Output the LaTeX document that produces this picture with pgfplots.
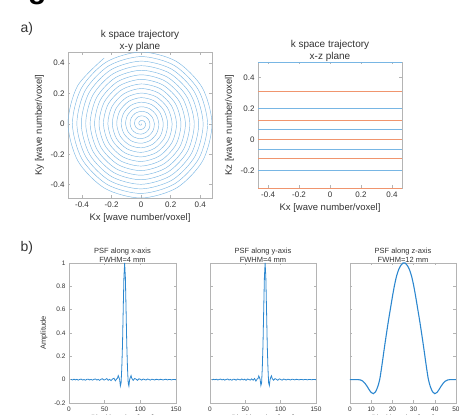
\documentclass[border=0pt]{standalone}
\usepackage{fontspec}
\setmainfont{Liberation Sans}
\usepackage{pgfplots}
\pgfplotsset{compat=1.18}
\definecolor{mblue}{HTML}{7DB8E4}
\definecolor{lblue}{HTML}{78B6E4}
\definecolor{lorange}{HTML}{F0956E}
\definecolor{pblue}{HTML}{2C87CF}
\definecolor{frame}{HTML}{B4B4B4}
\definecolor{txt}{HTML}{333333}

\pgfplotsset{
  mat/.style={scale only axis, anchor=south west,
    axis line style={frame, line width=0.5pt},
    tick style={frame, line width=0.4pt}, major tick length=2.5pt, tick align=inside,
    tick label style={text=txt}, label style={text=txt},
    title style={text=txt, align=center}},
  topax/.style={mat, width=144pt,
    tick label style={font=\fontsize{8}{9}\selectfont},
    label style={font=\fontsize{9.5}{11}\selectfont},
    title style={font=\fontsize{10}{12}\selectfont, yshift=-9pt},
    xtick={-0.4,-0.2,0,0.2,0.4}, xticklabels={-0.4,-0.2,0,0.2,0.4},
    xlabel={Kx [wave number/voxel]}},
  psf/.style={mat, height=140pt, ymin=-0.2, ymax=1,
    ytick={-0.2,0,0.2,0.4,0.6,0.8,1},
    tick label style={font=\fontsize{6.5}{7.5}\selectfont},
    label style={font=\fontsize{7.5}{8.5}\selectfont},
    xlabel style={yshift=2.5pt},
    title style={font=\fontsize{7.5}{8.5}\selectfont, yshift=-9pt},
    xlabel={Pixel location [mm]}},
}

\begin{document}
\begin{tikzpicture}
\node[anchor=base west, font=\fontsize{30}{32}\selectfont\bfseries] at (-2pt,416pt) {Figure};
\node[anchor=base west, font=\fontsize{14}{16}\selectfont, text=txt] at (17pt,382pt) {a)};
\node[anchor=base west, font=\fontsize{14}{16}\selectfont, text=txt] at (17pt,163pt) {b)};

% x-y plane spiral
\begin{axis}[topax, at={(68pt,217pt)}, height=146pt,
  xmin=-0.495, xmax=0.48, ymin=-0.4875, ymax=0.4725,
  ytick={-0.4,-0.2,0,0.2,0.4}, yticklabels={-0.4,-0.2,0,0.2,0.4},
  title={k space trajectory\\x-y plane}, ylabel={Ky [wave number/voxel]}]
\addplot[mblue, line width=0.45pt, smooth, data cs=polar] coordinates {
(0,0) (-30,0.0025) (-60,0.005) (-90,0.0075) (-120,0.01) (-150,0.0125) (-180,0.015) (-210,0.0175) (-240,0.02) (-270,0.0225) (-300,0.025) (-330,0.0275) (-360,0.03)
(-390,0.0325) (-420,0.035) (-450,0.0375) (-480,0.04) (-510,0.0425) (-540,0.045) (-570,0.0475) (-600,0.05) (-630,0.0525) (-660,0.055) (-690,0.0575) (-720,0.06)
(-750,0.0625) (-780,0.065) (-810,0.0675) (-840,0.07) (-870,0.0725) (-900,0.075) (-930,0.0775) (-960,0.08) (-990,0.0825) (-1020,0.085) (-1050,0.0875) (-1080,0.09)
(-1110,0.0925) (-1140,0.095) (-1170,0.0975) (-1200,0.1) (-1230,0.1025) (-1260,0.105) (-1290,0.1075) (-1320,0.11) (-1350,0.1125) (-1380,0.115) (-1410,0.1175) (-1440,0.12)
(-1470,0.1225) (-1500,0.125) (-1530,0.1275) (-1560,0.13) (-1590,0.1325) (-1620,0.135) (-1650,0.1375) (-1680,0.14) (-1710,0.1425) (-1740,0.145) (-1770,0.1475) (-1800,0.15)
(-1830,0.1525) (-1860,0.155) (-1890,0.1575) (-1920,0.16) (-1950,0.1625) (-1980,0.165) (-2010,0.1675) (-2040,0.17) (-2070,0.1725) (-2100,0.175) (-2130,0.1775) (-2160,0.18)
(-2190,0.1825) (-2220,0.185) (-2250,0.1875) (-2280,0.19) (-2310,0.1925) (-2340,0.195) (-2370,0.1975) (-2400,0.2) (-2430,0.2025) (-2460,0.205) (-2490,0.2075) (-2520,0.21)
(-2550,0.2125) (-2580,0.215) (-2610,0.2175) (-2640,0.22) (-2670,0.2225) (-2700,0.225) (-2730,0.2275) (-2760,0.23) (-2790,0.2325) (-2820,0.235) (-2850,0.2375) (-2880,0.24)
(-2910,0.2425) (-2940,0.245) (-2970,0.2475) (-3000,0.25) (-3030,0.2525) (-3060,0.255) (-3090,0.2575) (-3120,0.26) (-3150,0.2625) (-3180,0.265) (-3210,0.2675) (-3240,0.27)
(-3270,0.2725) (-3300,0.275) (-3330,0.2775) (-3360,0.28) (-3390,0.2825) (-3420,0.285) (-3450,0.2875) (-3480,0.29) (-3510,0.2925) (-3540,0.295) (-3570,0.2975) (-3600,0.3)
(-3630,0.3025) (-3660,0.305) (-3690,0.3075) (-3720,0.31) (-3750,0.3125) (-3780,0.315) (-3810,0.3175) (-3840,0.32) (-3870,0.3225) (-3900,0.325) (-3930,0.3275) (-3960,0.33)
(-3990,0.3325) (-4020,0.335) (-4050,0.3375) (-4080,0.34) (-4110,0.3425) (-4140,0.345) (-4170,0.3475) (-4200,0.35) (-4230,0.3525) (-4260,0.355) (-4290,0.3575) (-4320,0.36)
(-4350,0.3625) (-4380,0.365) (-4410,0.3675) (-4440,0.37) (-4470,0.3725) (-4500,0.375) (-4530,0.3775) (-4560,0.38) (-4590,0.3825) (-4620,0.385) (-4650,0.3875) (-4680,0.39)
(-4710,0.3925) (-4740,0.395) (-4770,0.3975) (-4800,0.4) (-4830,0.4025) (-4860,0.405) (-4890,0.4075) (-4920,0.41) (-4950,0.4125) (-4980,0.415) (-5010,0.4175) (-5040,0.42)
(-5070,0.4225) (-5100,0.425) (-5130,0.4275) (-5160,0.43) (-5190,0.4325) (-5220,0.435) (-5250,0.4375) (-5280,0.44) (-5310,0.4425) (-5340,0.445) (-5370,0.4475) (-5400,0.45)
(-5430,0.4525) (-5460,0.455) (-5490,0.4575) (-5520,0.46) (-5550,0.4625) (-5580,0.465) (-5610,0.4675) (-5640,0.47) (-5670,0.4725) (-5700,0.475) (-5730,0.4775) (-5760,0.48)
(-5790,0.4825) (-5820,0.485) (-5850,0.4875) (-5880,0.49) (-5910,0.4925) (-5940,0.495) (-5970,0.4975) (-6000,0.5)};
\end{axis}

% x-z plane lines
\begin{axis}[topax, at={(258pt,227pt)}, height=126pt, clip=false,
  xmin=-0.465, xmax=0.465, ymin=-0.3125, ymax=0.5,
  ytick={-0.2,0,0.2,0.4}, yticklabels={-0.2,0,0.2,0.4},
  title={k space trajectory\\x-z plane}, ylabel={Kz [wave number/voxel]}]
\addplot[lblue, line width=0.9pt] coordinates {(-0.465,0.5) (0.465,0.5)};
\addplot[lblue, line width=0.9pt] coordinates {(-0.465,0.2) (0.465,0.2)};
\addplot[lblue, line width=0.9pt] coordinates {(-0.465,0.0625) (0.465,0.0625)};
\addplot[lblue, line width=0.9pt] coordinates {(-0.465,-0.0625) (0.465,-0.0625)};
\addplot[lblue, line width=0.9pt] coordinates {(-0.465,-0.2) (0.465,-0.2)};
\addplot[lorange, line width=0.9pt] coordinates {(-0.465,0.3125) (0.465,0.3125)};
\addplot[lorange, line width=0.9pt] coordinates {(-0.465,0.125) (0.465,0.125)};
\addplot[lorange, line width=0.9pt] coordinates {(-0.465,0) (0.465,0)};
\addplot[lorange, line width=0.9pt] coordinates {(-0.465,-0.125) (0.465,-0.125)};
\addplot[lorange, line width=0.9pt] coordinates {(-0.465,-0.3125) (0.465,-0.3125)};
\end{axis}

% PSF x
\begin{axis}[psf, at={(69pt,12pt)}, width=107pt, xmin=0, xmax=150,
  xtick={0,50,100,150}, xticklabels={0,50,100,150},
  yticklabels={-0.2,0,0.2,0.4,0.6,0.8,1},
  title={PSF along x-axis\\FWHM=4 mm}, ylabel={Amplitude}]
\addplot[pblue, line width=0.8pt] coordinates {
(3,0.002) (5,-0.003) (7,0.004) (9,-0.002) (11,0.003) (13,-0.004) (15,0.002) (17,0.005) (19,-0.003) (21,0.001)
(23,-0.005) (25,0.003) (27,0.004) (29,-0.002) (31,0.002) (33,-0.004) (35,0.003) (37,0.006) (39,-0.003) (41,0.002)
(43,-0.006) (45,0.004) (47,0.008) (49,-0.004) (51,0.002) (53,0.009) (55,-0.005) (57,0.003) (59,-0.008) (61,0.006)
(63,0.012) (65,-0.01) (67,0.008) (68,0.012) (69,0.035) (70,0.02) (71,0.0) (72,-0.055) (73,-0.03) (74,0.1)
(75,0.3) (76,0.6) (77,0.88) (78,1.0) (79,0.88) (80,0.6) (81,0.3) (82,0.1) (83,-0.03) (84,-0.055)
(85,0.0) (86,0.02) (87,0.035) (88,0.012) (90,-0.006) (92,0.01) (94,0.004) (96,-0.006) (98,0.008) (100,0.003)
(102,-0.004) (104,0.006) (106,0.001) (108,-0.003) (110,0.005) (112,0.002) (114,-0.004) (116,0.004) (118,0.001) (120,-0.003)
(122,0.003) (124,0.002) (126,-0.002) (128,0.003) (130,0.001) (132,-0.003) (134,0.002) (136,0.003) (138,-0.002) (140,0.002)
(142,0.001) (144,-0.002) (146,0.002) (148,0.001) (150,0)};
\end{axis}

% PSF y
\begin{axis}[psf, at={(210pt,12pt)}, width=106pt, xmin=0, xmax=150,
  xtick={0,50,100,150}, xticklabels={0,50,100,150}, yticklabels={},
  title={PSF along y-axis\\FWHM=4 mm}]
\addplot[pblue, line width=0.8pt] coordinates {
(3,-0.002) (5,0.003) (7,-0.001) (9,0.004) (11,-0.003) (13,0.002) (15,0.005) (17,-0.002) (19,0.003) (21,-0.004)
(23,0.002) (25,0.006) (27,-0.003) (29,0.002) (31,-0.005) (33,0.004) (35,0.002) (37,-0.004) (39,0.005) (41,0.001)
(43,-0.003) (45,0.006) (47,-0.002) (49,0.004) (51,-0.006) (53,0.005) (55,0.002) (57,-0.004) (59,0.007) (61,-0.005)
(63,0.01) (65,-0.012) (67,0.008) (68,0.01) (69,0.032) (70,0.018) (71,0.0) (72,-0.05) (73,-0.028) (74,0.1)
(75,0.3) (76,0.6) (77,0.88) (78,1.0) (79,0.88) (80,0.6) (81,0.3) (82,0.1) (83,-0.028) (84,-0.05)
(85,0.0) (86,0.02) (87,0.033) (88,0.01) (90,-0.005) (92,0.009) (94,0.003) (96,-0.005) (98,0.007) (100,0.002)
(102,-0.004) (104,0.005) (106,0.002) (108,-0.003) (110,0.004) (112,0.001) (114,-0.003) (116,0.004) (118,0.002) (120,-0.002)
(122,0.003) (124,0.001) (126,-0.002) (128,0.002) (130,0.002) (132,-0.002) (134,0.002) (136,0.001) (138,-0.002) (140,0.002)
(142,0.001) (144,-0.001) (146,0.002) (148,0.001) (150,0)};
\end{axis}

% PSF z
\begin{axis}[psf, at={(350pt,12pt)}, width=106pt, xmin=0, xmax=50,
  xtick={0,10,20,30,40,50}, xticklabels={0,10,20,30,40,50}, yticklabels={},
  title={PSF along z-axis\\FWHM=12 mm}]
\addplot[pblue, line width=1.1pt, smooth] coordinates {
(0,0) (2,0) (4,0) (5,-0.003) (6,-0.012) (7,-0.03) (8,-0.055) (9,-0.085) (10,-0.11) (11,-0.12)
(12,-0.105) (13,-0.065) (14,0.0) (15,0.115) (16,0.245) (17,0.37) (18,0.49) (19,0.6) (20,0.71) (21,0.81)
(22,0.89) (23,0.945) (24,0.98) (25,1.0) (26,1.0) (27,0.98) (28,0.945) (29,0.89) (30,0.81) (31,0.71)
(32,0.6) (33,0.49) (34,0.37) (35,0.245) (36,0.115) (37,0.0) (38,-0.065) (39,-0.105) (40,-0.12) (41,-0.11)
(42,-0.085) (43,-0.055) (44,-0.03) (45,-0.012) (46,-0.003) (47,0) (48,0) (50,0)};
\end{axis}

\pgfresetboundingbox
\path[use as bounding box] (0pt,0pt) rectangle (459pt,415pt);
\end{tikzpicture}
\end{document}
